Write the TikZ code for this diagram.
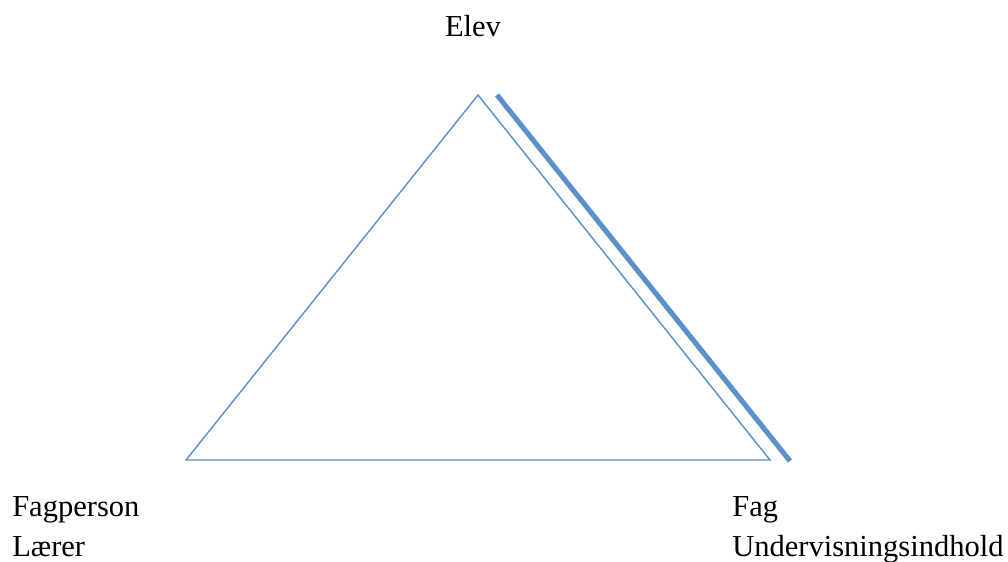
\documentclass[tikz,border=0pt]{standalone}
\usepackage{fontspec}
\setmainfont{Liberation Serif}
\usepackage{tikz}
\usetikzlibrary{positioning,calc}
\usepackage{xcolor}
\definecolor{edgeblue}{HTML}{5A90CC}
\tikzset{side/.style={draw=edgeblue,line width=1pt,line join=miter},
  heavyside/.style={draw=edgeblue,line width=3.6pt},
  lbl/.style={font=\fontsize{21.7}{25}\selectfont, inner sep=0pt, text=black}}

\begin{document}
\begin{tikzpicture}[x=0.025cm, y=-0.025cm]
        \useasboundingbox (0,0) rectangle (1008,561);
        % corners of the triangle
        \coordinate (elev) at (478,95);
        \coordinate (fagperson) at (186,460);
        \coordinate (fag) at (770,460);
        \draw[side] (elev) -- (fag) -- (fagperson) -- cycle;
        % the heavy line along the right side
        \coordinate (heavytop) at (497,95);
        \coordinate (heavybot) at (790,461);
        \draw[heavyside] (heavytop) -- (heavybot);
        % labels
        \node[lbl, anchor=base] (elevlbl) at (473,36) {Elev};
        \node[lbl, anchor=base west] (fpers) at (12,516) {Fagperson};
        \node[lbl, anchor=base west] (laerer) at (12,556) {Lærer};
        \node[lbl, anchor=base west] (faglbl) at (732,516) {Fag};
        \node[lbl, anchor=base west] (undv) at (732,556) {Undervisningsindhold};
      \end{tikzpicture}
\end{document}
